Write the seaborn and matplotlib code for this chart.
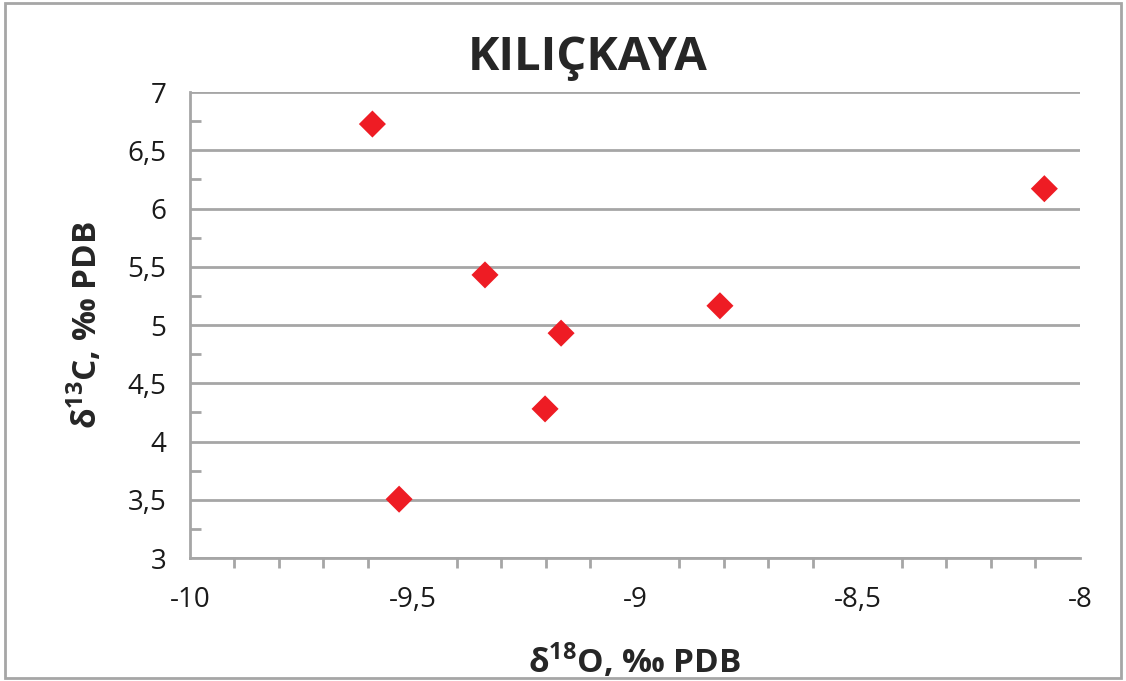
import numpy as np
import pandas as pd
import matplotlib
matplotlib.use("Agg")
import matplotlib.pyplot as plt
import matplotlib.ticker as mticker
import seaborn as sns

# values
d18O = [-9.59, -8.08, -9.337, -8.809, -9.166, -9.202, -9.53]
d13C = [6.725, 6.17, 5.43, 5.165, 4.93, 4.28, 3.505]
title = "KILIÇKAYA"
xlabel = r"δ$^{\mathbf{18}}$O, ‰ PDB"
ylabel = r"δ$^{\mathbf{13}}$C, ‰ PDB"

df = pd.DataFrame({"x": d18O, "y": d13C})

sns.set_style("white")
plt.rcParams["font.family"] = ["Open Sans", "DejaVu Sans"]
plt.rcParams["mathtext.fontset"] = "custom"
plt.rcParams["mathtext.bf"] = "Open Sans:bold"
plt.rcParams["mathtext.rm"] = "Open Sans"

grey = "#a6a6a6"
fig = plt.figure(figsize=(11.26, 6.81), dpi=100)
ax = fig.add_axes([0.1687, 0.1806, 0.7904, 0.6843])

sns.scatterplot(data=df, x="x", y="y", marker="D", s=190, color="#ee1c24",
                edgecolor="none", ax=ax, zorder=3, clip_on=False)

ax.set_xlim(-10, -8)
ax.set_ylim(3, 7)
ax.xaxis.set_major_locator(mticker.MultipleLocator(0.5))
ax.xaxis.set_minor_locator(mticker.MultipleLocator(0.1))
ax.yaxis.set_major_locator(mticker.MultipleLocator(0.5))
ax.yaxis.set_minor_locator(mticker.MultipleLocator(0.25))

fmt = mticker.FuncFormatter(lambda v, p: ("%g" % v).replace(".", ","))
ax.xaxis.set_major_formatter(fmt)
ax.yaxis.set_major_formatter(fmt)

ax.grid(axis="y", which="major", color=grey, linewidth=2)
ax.set_axisbelow(True)
for side in ["top", "right"]:
    ax.spines[side].set_visible(False)
for side in ["left", "bottom"]:
    ax.spines[side].set_color(grey)
    ax.spines[side].set_linewidth(2)

ax.tick_params(axis="y", which="major", direction="out", length=9, width=2,
               color=grey, labelsize=20, labelcolor="#1a1a1a", pad=8)
ax.tick_params(axis="y", which="minor", direction="in", length=8, width=2,
               color=grey, left=True)
ax.tick_params(axis="x", which="major", direction="inout", length=20, width=2,
               color=grey, labelsize=20, labelcolor="#1a1a1a", pad=10)
ax.tick_params(axis="x", which="minor", direction="out", length=7, width=2,
               color=grey, bottom=True)

ax.set_xlabel(xlabel, fontsize=24, fontweight="bold", labelpad=20)
ax.set_ylabel(ylabel, fontsize=24, fontweight="bold", labelpad=16)
fig.text(0.522, 0.915, title, fontsize=34, fontweight="bold",
         ha="center", va="center")

# chart area frame
fig.patches.append(plt.Rectangle((0.004, 0.004), 0.992, 0.992, fill=False,
                                 edgecolor=grey, linewidth=2,
                                 transform=fig.transFigure))

fig.savefig("out.png", dpi=100)
